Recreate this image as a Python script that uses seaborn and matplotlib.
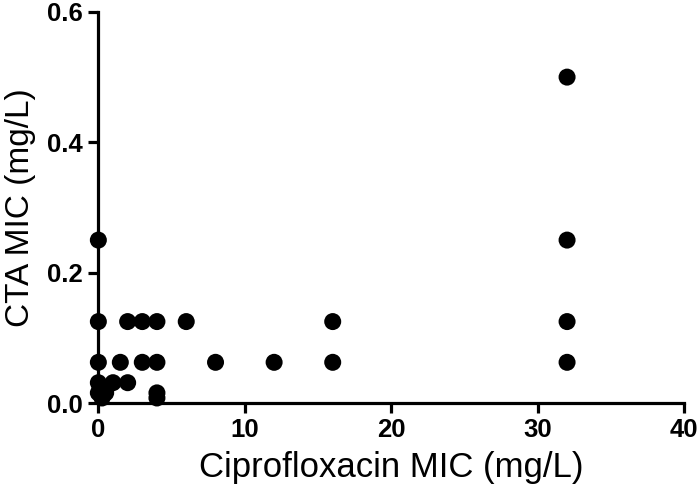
import matplotlib
matplotlib.use("Agg")
import matplotlib.pyplot as plt
import seaborn as sns
import pandas as pd

# Ciprofloxacin MIC vs CTA MIC (mg/L)
cipro_mic = [0, 0, 0, 0, 0, 0.5, 0.25,
             1, 1.5, 2, 2, 3, 3, 4, 4, 4, 4,
             6, 8, 12, 16, 16,
             32, 32, 32, 32]
cta_mic = [0.25, 0.125, 0.0625, 0.03125, 0.015625, 0.015625, 0.0078,
           0.03125, 0.0625, 0.125, 0.03125, 0.125, 0.0625, 0.125, 0.0625, 0.015625, 0.0078,
           0.125, 0.0625, 0.0625, 0.125, 0.0625,
           0.5, 0.25, 0.125, 0.0625]

df = pd.DataFrame({"cipro": cipro_mic, "cta": cta_mic})

sns.set_style("ticks")
plt.rcParams["font.family"] = ["Liberation Sans", "DejaVu Sans"]
# seaborn greys out text and ticks, the original is plain black
plt.rcParams["text.color"] = "black"
plt.rcParams["axes.labelcolor"] = "black"
plt.rcParams["xtick.color"] = "black"
plt.rcParams["ytick.color"] = "black"

fig = plt.figure(figsize=(7, 4.97), dpi=100)
ax = fig.add_axes([0.1405, 0.189, 0.837, 0.787])

sns.scatterplot(data=df, x="cipro", y="cta", color="black", s=150,
                edgecolor="none", ax=ax, clip_on=False, zorder=3)

ax.set_xlim(0, 40)
ax.set_ylim(0, 0.6)
ax.set_xticks([0, 10, 20, 30, 40])
ax.set_yticks([0.0, 0.2, 0.4, 0.6])
ax.set_yticklabels(["0.0", "0.2", "0.4", "0.6"])

for side in ["top", "right"]:
    ax.spines[side].set_visible(False)
for side in ["left", "bottom"]:
    ax.spines[side].set_linewidth(2.3)
    ax.spines[side].set_color("black")

ax.tick_params(axis="both", length=7, width=2.3, colors="black",
               labelsize=18.5, pad=4)
for lab in ax.get_xticklabels() + ax.get_yticklabels():
    lab.set_fontweight("bold")

ax.set_xlabel("Ciprofloxacin MIC (mg/L)", fontsize=25, labelpad=6, color="black")
ax.set_ylabel("CTA MIC (mg/L)", fontsize=24, labelpad=8, color="black")

fig.savefig("out.png", dpi=100)
